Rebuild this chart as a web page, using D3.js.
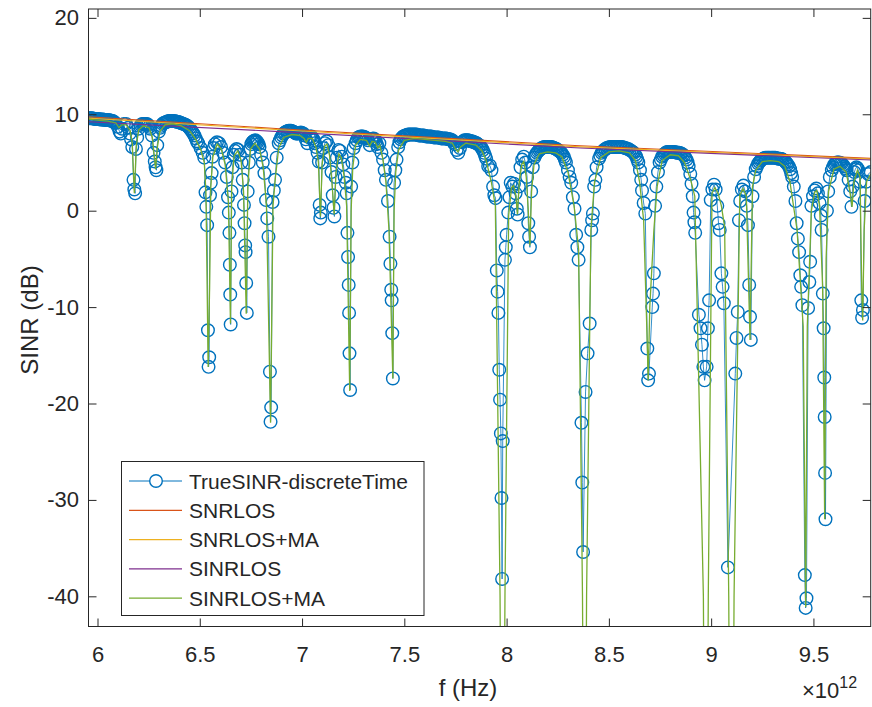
<!DOCTYPE html>
<html>
<head>
<meta charset="utf-8">
<script src="https://cdn.jsdelivr.net/npm/d3@7"></script>
<style>
  body { margin: 0; background: #fff; }
  text { font-family: "Liberation Sans", Arial, Helvetica, sans-serif; fill: #262626; }
</style>
</head>
<body>
<div id="chart"></div>
<script>
// frequency in units of 1e12 Hz, values in dB

// TrueSINR-discreteTime samples
var trueSinrA = [
  [5.955,9.6],[5.967,9.6],[5.979,9.55],[5.991,9.5],[6.003,9.5],[6.015,9.45],[6.027,9.45],[6.039,9.4],[6.051,9.4],[6.063,9.35],[6.075,9.3],[6.087,9.1],
  [6.099,8.7],[6.108,8.2],[6.114,8.0],[6.120,8.5],[6.129,9.0],
  [6.140,9.0],[6.150,8.6],[6.158,8.0],[6.164,7.4],[6.170,6.6],[6.176,3.2],[6.180,2.2],[6.184,1.8],[6.188,6.4],[6.194,7.6],[6.200,8.5],
  [6.212,8.9],[6.224,9.0],[6.236,9.0],[6.248,8.9],[6.258,8.5],
  [6.266,7.8],[6.274,6.0],[6.280,5.1],[6.284,4.5],[6.288,4.2],[6.292,6.8],[6.300,8.2],
  [6.312,8.8],[6.324,9.1],[6.336,9.2],[6.348,9.3],[6.360,9.3],[6.372,9.3],[6.384,9.25],[6.396,9.2],[6.408,9.1],[6.420,9.0],[6.432,8.9],[6.444,8.7],[6.456,8.4],[6.468,8.0],[6.480,7.5],
  [6.492,7.0],[6.504,6.5],[6.514,6.0],[6.522,5.5],[6.528,1.9],[6.532,0.4],[6.536,-1.5],[6.540,-12.4],[6.543,-16.2],[6.546,-15.2],[6.550,1.6],[6.554,2.9],[6.558,3.9],[6.562,5.6],[6.568,6.5],
  [6.574,6.9],[6.584,7.1],[6.594,7.0],[6.604,6.6],[6.614,6.0],
  [6.624,5.0],[6.632,3.5],[6.638,1.4],[6.642,-0.2],[6.645,-2.3],[6.647,-5.6],[6.649,-8.7],[6.651,-11.8],[6.655,2.0],[6.660,4.5],[6.666,5.8],
  [6.672,6.2],[6.680,6.4],[6.688,6.3],[6.696,5.8],[6.704,5.0],
  [6.710,3.2],[6.716,0.6],[6.719,-1.3],[6.722,-3.6],[6.724,-4.3],[6.727,-7.5],[6.730,-10.6],[6.734,2.0],[6.740,5.0],[6.746,6.4],
  [6.752,6.9],[6.762,7.2],[6.772,7.3],[6.782,7.1],[6.792,6.6],[6.800,5.8],
  [6.808,5.0],[6.816,3.9],[6.824,1.1],[6.830,-0.8],[6.836,-2.7],[6.843,-16.7],[6.846,-21.9],[6.849,-20.4],[6.856,0.9],[6.862,2.1],[6.868,3.2],[6.876,5.5]
];
var trueSinrB = [
  [6.886,7.0],[6.898,7.6],[6.910,8.0],[6.922,8.2],[6.934,8.3],[6.946,8.3],[6.958,8.2],[6.970,8.0],[6.982,8.0],[6.994,8.1],[7.006,8.0],[7.018,7.4],[7.026,7.0],[7.034,7.6],[7.046,7.7],[7.058,7.3],[7.068,6.6],
  [7.076,6.0],[7.082,5.1],[7.086,0.6],[7.089,-0.8],[7.092,-0.2],[7.098,5.0],[7.104,6.5],
  [7.112,7.0],[7.120,7.2],[7.128,6.8],[7.136,5.5],
  [7.144,4.0],[7.150,1.6],[7.154,0.3],[7.158,-0.6],[7.164,3.5],[7.170,5.5],
  [7.178,6.3],[7.186,6.2],[7.194,5.6],[7.202,4.8],
  [7.208,3.5],[7.214,2.9],[7.218,1.8],[7.222,-2.3],[7.225,-4.8],[7.228,-7.7],[7.230,-10.6],[7.232,-14.8],[7.235,-18.6],[7.240,2.5],[7.246,5.0],[7.252,6.5],
  [7.262,7.0],[7.274,7.6],[7.286,7.7],[7.298,7.7],[7.310,7.6],[7.322,7.3],[7.331,6.8],[7.340,7.4],[7.350,7.5],[7.360,7.2],[7.370,6.6],[7.378,7.0],[7.388,6.0],[7.396,5.3],[7.404,4.2],[7.410,3.2],
  [7.420,1.0],[7.428,-2.7],[7.432,-5.5],[7.436,-8.2],[7.438,-9.3],[7.441,-12.7],[7.444,-17.4],[7.450,2.9],[7.456,4.2],[7.462,5.3],[7.470,6.6],
  [7.482,7.4],[7.494,7.7],[7.506,7.8],[7.518,7.9],[7.530,7.9],[7.542,7.9],[7.554,7.9],[7.566,7.85],[7.578,7.8],[7.590,7.8],[7.602,7.75],[7.614,7.7],[7.626,7.7],[7.638,7.65],[7.650,7.6],[7.662,7.6],[7.674,7.55],[7.686,7.5],[7.698,7.5],[7.710,7.45],[7.722,7.4],[7.734,7.3],[7.746,6.9],[7.756,6.3],[7.764,6.0],[7.772,6.5],[7.782,7.1],[7.794,7.3],[7.806,7.3],[7.818,7.25],[7.830,7.2],[7.842,7.1],[7.854,7.0],[7.866,6.8],[7.878,6.5],[7.890,6.0],[7.900,5.4],[7.910,4.6]
];
var trueSinrC = [
  [7.918,4.7],[7.926,4.2],[7.934,2.5],[7.940,1.6],[7.946,1.3],[7.952,-6.2],[7.956,-8.4],[7.960,-10.6],[7.964,-16.5],[7.968,-19.6],[7.972,-23.1],[7.975,-29.8],[7.978,-38.2],[7.981,-23.9],[7.992,-5.1],[7.996,-3.8],[8.000,-2.5],[8.008,-0.2],[8.014,1.4],[8.020,2.9],
  [8.028,2.5],[8.036,2.8],[8.044,1.8],[8.050,0.2],[8.054,-0.4],[8.060,2.5],[8.068,4.5],[8.076,5.3],[8.084,5.6],[8.092,5.0],[8.100,3.5],[8.106,-1.3],[8.110,-2.7],[8.114,-3.8],[8.120,2.0],[8.128,4.5],
  [8.136,5.5],[8.148,6.0],[8.160,6.3],[8.172,6.5],[8.184,6.6],[8.196,6.6],[8.208,6.6],[8.220,6.6],[8.232,6.5],[8.244,6.4],[8.256,6.2],[8.268,6.0],[8.280,5.6],[8.290,5.0],[8.300,4.2],[8.308,3.5],
  [8.316,2.9],[8.324,1.4],[8.332,0.2],[8.340,-2.5],[8.346,-3.8],[8.352,-5.1],[8.366,-22.0],[8.370,-28.2],[8.374,-35.4],[8.386,-18.8],[8.396,-14.8],[8.406,-11.7],[8.414,-2.0],[8.418,-1.0],[8.422,-0.3],[8.428,2.5],[8.434,3.2],
  [8.440,4.5],[8.452,5.4],[8.464,6.0],[8.476,6.3],[8.490,6.5],[8.505,6.6],[8.520,6.6],[8.535,6.6],[8.550,6.6],[8.565,6.6],[8.580,6.5],[8.595,6.4],[8.610,6.2],[8.622,6.0],[8.634,5.6],[8.644,5.0],[8.652,4.2],[8.658,3.2],
  [8.662,2.1],[8.670,0.8],[8.678,-0.3],[8.688,-14.3],[8.692,-17.6],[8.696,-16.9],[8.712,-10.0],[8.716,-8.6],[8.720,-6.5],[8.726,0.5],[8.732,2.5],[8.740,4.0],
  [8.748,5.0],[8.760,5.6],[8.772,5.9],[8.784,6.1],[8.796,6.1],[8.808,6.1],[8.820,6.1],[8.832,6.0],[8.844,6.0],[8.856,5.9],[8.868,5.7],[8.880,5.3],[8.890,4.6],[8.898,3.8]
];
var trueSinrD = [
  [8.904,2.8],[8.910,1.5],[8.914,-0.2],[8.918,-1.2],[8.922,-2.3],[8.940,-10.8],[8.948,-12.2],[8.955,-13.9],[8.962,-16.2],[8.968,-17.6],[8.978,-16.2],[8.984,-12.2],[8.990,-9.3],[8.998,1.1],
  [9.006,2.2],[9.014,2.7],[9.022,2.2],[9.030,0.5],[9.036,-1.3],[9.042,-2.0],[9.050,-6.5],[9.056,-7.9],[9.062,-9.6],[9.082,-37.0],[9.118,-16.9],[9.124,-13.2],[9.130,-10.5],[9.136,-1.0],
  [9.142,1.0],[9.150,2.2],[9.158,2.6],[9.166,2.0],[9.174,0.5],[9.180,-1.5],[9.186,-7.7],[9.190,-11.0],[9.194,-13.4],[9.202,1.5],[9.210,3.5],
  [9.218,4.3],[9.230,4.9],[9.242,5.2],[9.254,5.4],[9.266,5.5],[9.278,5.5],[9.290,5.5],[9.302,5.5],[9.314,5.5],[9.326,5.4],[9.338,5.4],[9.350,5.3],[9.362,5.1],[9.374,4.8],[9.386,4.3],[9.396,3.5],
  [9.404,2.5],[9.412,1.0],[9.418,-1.3],[9.424,-2.9],[9.430,-4.3],[9.436,-6.7],[9.440,-7.9],[9.446,-9.8],[9.458,-37.8],[9.462,-41.2],[9.466,-40.2],[9.474,-10.1],[9.480,-7.4],[9.484,-5.3],[9.490,0.5],
  [9.498,1.5],[9.506,2.1],[9.514,2.3],[9.522,1.8],[9.530,0.8],[9.536,-0.5],[9.540,-2.0],
  [9.546,-8.6],[9.550,-12.2],[9.553,-17.3],[9.555,-21.4],[9.557,-27.2],[9.559,-32.0],[9.566,0.0],[9.572,2.0],[9.580,3.5],
  [9.590,4.2],[9.602,4.8],[9.614,5.0],[9.626,5.0],[9.638,4.9],[9.650,4.6],[9.662,4.2],[9.672,3.2],[9.680,2.0],[9.686,0.4],[9.692,2.5],[9.700,4.0],[9.710,4.5],[9.720,4.2],[9.728,3.0],
  [9.734,-9.3],[9.738,-11.1],[9.742,-10.3],[9.750,1.0],[9.758,3.0],[9.768,3.8],[9.780,4.0]
];
// extra samples lying between the ones above on the arches, where circles overlap into a band
var trueSinrArches = [
  [5.961,9.6],[5.973,9.58],[5.985,9.52],[5.997,9.5],[6.009,9.48],[6.021,9.45],[6.033,9.42],[6.045,9.4],[6.057,9.38],[6.069,9.32],[6.081,9.2],
  [6.218,9.0],[6.230,9.0],[6.242,9.0],[6.253,8.7],
  [6.306,8.6],[6.318,9.0],[6.330,9.15],[6.342,9.25],[6.354,9.3],[6.366,9.3],[6.378,9.28],[6.390,9.22],[6.402,9.15],[6.414,9.05],[6.426,8.95],[6.438,8.8],[6.450,8.55],[6.462,8.2],[6.474,7.8],[6.486,7.2],
  [6.757,7.1],[6.767,7.25],[6.777,7.2],[6.787,6.9],
  [6.892,7.3],[6.904,7.8],[6.916,8.1],[6.928,8.25],[6.940,8.3],[6.952,8.25],[6.964,8.1],[6.976,8.0],[6.988,8.05],[7.000,8.05],[7.012,7.8],[7.040,7.7],[7.052,7.5],[7.063,7.0],
  [7.268,7.3],[7.280,7.65],[7.292,7.7],[7.304,7.65],[7.316,7.5],[7.345,7.45],[7.355,7.4],[7.365,6.9],
  [7.476,7.1],[7.488,7.55],[7.500,7.75],[7.512,7.85],[7.524,7.9],[7.536,7.9],[7.548,7.9],[7.560,7.9],[7.572,7.8],[7.584,7.8],[7.596,7.8],[7.608,7.7],[7.620,7.7],[7.632,7.7],[7.644,7.6],[7.656,7.6],[7.668,7.6],[7.680,7.5],[7.692,7.5],[7.704,7.5],[7.716,7.4],[7.728,7.35],[7.740,7.1],
  [7.788,7.2],[7.800,7.3],[7.812,7.3],[7.824,7.2],[7.836,7.15],[7.848,7.05],[7.860,6.9],[7.872,6.7],[7.884,6.3],[7.895,5.7],
  [8.142,5.8],[8.154,6.15],[8.166,6.4],[8.178,6.55],[8.190,6.6],[8.202,6.6],[8.214,6.6],[8.226,6.55],[8.238,6.45],[8.250,6.3],[8.262,6.1],[8.274,5.8],[8.285,5.3],
  [8.458,5.7],[8.470,6.15],[8.483,6.4],[8.497,6.55],[8.512,6.6],[8.527,6.6],[8.542,6.6],[8.557,6.6],[8.572,6.55],[8.587,6.45],[8.602,6.3],[8.616,6.1],[8.628,5.8],[8.639,5.3],
  [8.754,5.3],[8.766,5.75],[8.778,6.0],[8.790,6.1],[8.802,6.1],[8.814,6.1],[8.826,6.05],[8.838,6.0],[8.850,5.95],[8.862,5.8],[8.874,5.5],[8.885,5.0],
  [9.224,4.6],[9.236,5.05],[9.248,5.3],[9.260,5.45],[9.272,5.5],[9.284,5.5],[9.296,5.5],[9.308,5.5],[9.320,5.45],[9.332,5.4],[9.344,5.35],[9.356,5.2],[9.368,4.95],[9.380,4.6],[9.391,3.9],
  [9.596,4.5],[9.608,4.9],[9.620,5.0],[9.632,4.95],[9.644,4.75],[9.656,4.4],[9.705,4.3],[9.715,4.4]
];

// SINRLOS+MA (green), dips that leave the axes get values below the limit
var sinrLosMa = [
  [5.955,9.5],[6.000,9.4],[6.050,9.3],[6.090,9.1],[6.105,8.6],[6.118,8.9],[6.140,8.9],[6.160,8.3],[6.170,7.0],[6.180,1.8],[6.190,6.8],[6.202,8.4],
  [6.225,8.8],[6.252,8.6],[6.268,7.6],[6.276,6.0],[6.284,4.3],[6.292,6.5],[6.305,8.2],[6.330,8.9],[6.370,9.0],[6.410,8.8],[6.450,8.3],[6.480,7.4],
  [6.505,6.3],[6.522,5.0],[6.530,2.0],[6.541,-16.2],[6.548,-8.0],[6.554,2.5],[6.564,5.6],[6.585,6.9],[6.605,6.4],[6.624,4.8],[6.640,1.0],[6.650,-11.7],
  [6.656,2.5],[6.668,5.7],[6.686,6.2],[6.702,5.2],[6.714,2.0],[6.727,-10.7],[6.735,2.5],[6.748,6.4],[6.770,7.0],[6.792,6.4],[6.810,4.5],[6.826,0.5],
  [6.846,-22.0],[6.858,0.5],[6.870,3.5],[6.886,6.5],[6.910,7.6],[6.950,7.9],[6.990,7.8],[7.010,7.5],[7.021,7.1],[7.030,7.5],[7.050,7.5],[7.068,6.6],
  [7.080,5.0],[7.090,-0.6],[7.098,4.8],[7.110,6.7],[7.122,6.9],[7.134,5.8],[7.146,3.0],[7.157,-0.4],[7.166,4.0],[7.180,5.9],[7.192,5.5],[7.206,3.5],
  [7.218,0.5],[7.233,-18.7],[7.240,0.0],[7.248,4.5],[7.262,6.8],[7.285,7.4],[7.315,7.3],[7.331,6.7],[7.342,7.2],[7.358,7.1],[7.370,6.5],[7.380,6.8],
  [7.394,5.5],[7.410,3.0],[7.425,-2.0],[7.444,-17.4],[7.450,0.0],[7.458,4.0],[7.472,6.3],[7.500,7.3],[7.550,7.5],[7.600,7.4],[7.650,7.3],[7.700,7.2],
  [7.735,7.0],[7.750,6.4],[7.762,6.1],[7.775,6.6],[7.800,7.0],[7.850,6.8],[7.880,6.2],[7.900,5.2],[7.925,3.0],[7.945,0.5],[7.968,-40],[7.972,-55],
  [7.988,-55],[7.992,-40],[8.010,-0.5],[8.024,2.4],[8.034,2.6],[8.046,1.5],[8.053,-0.4],[8.062,3.0],[8.074,4.8],[8.084,5.1],[8.096,3.5],[8.106,0.0],
  [8.114,-3.6],[8.122,2.0],[8.134,4.8],[8.160,5.9],[8.200,6.1],[8.240,6.0],[8.270,5.6],[8.300,4.0],[8.330,0.5],[8.352,-4.0],[8.371,-40],[8.375,-55],
  [8.387,-55],[8.391,-40],[8.412,-2.0],[8.430,3.0],[8.460,5.5],[8.500,6.1],[8.550,6.2],[8.600,6.0],[8.630,5.2],[8.650,3.0],[8.670,-1.0],[8.688,-14.0],
  [8.692,-17.6],[8.700,-10.0],[8.720,-2.0],[8.736,2.5],[8.760,5.2],[8.800,5.8],[8.840,5.7],[8.870,5.0],[8.900,3.2],[8.920,1.5],[8.962,-40],[8.966,-55],
  [8.982,-55],[8.986,-40],[9.004,1.8],[9.018,2.4],[9.034,1.8],[9.050,0.5],[9.066,-1.7],[9.086,-40],[9.090,-55],[9.108,-55],[9.112,-40],[9.140,1.6],
  [9.156,2.3],[9.172,1.5],[9.190,-13.4],[9.202,2.5],[9.218,4.2],[9.250,5.1],[9.290,5.2],[9.330,5.1],[9.360,4.6],[9.385,3.0],[9.420,-2.0],[9.450,-12.0],
  [9.462,-41.1],[9.470,-12.0],[9.490,0.0],[9.506,1.9],[9.516,2.1],[9.530,0.5],[9.545,-8.0],[9.555,-32.0],[9.562,-5.0],[9.574,2.0],[9.600,4.3],[9.630,4.6],
  [9.660,4.0],[9.678,2.0],[9.689,0.4],[9.698,3.0],[9.715,4.2],[9.728,3.5],[9.736,-8.0],[9.741,-11.4],[9.748,-2.0],[9.760,3.0],[9.780,3.8]
];

var snrLos   = [[5.955,9.75],[6.891,8.5],[8.334,6.76],[9.780,5.43]];
var snrLosMa = [[5.955,9.6],[6.891,8.4],[8.334,6.65],[9.780,5.35]];
var sinrLos  = [[5.955,9.23],[6.891,8.2],[8.359,6.5],[9.780,5.26]];

var xTicks = [6, 6.5, 7, 7.5, 8, 8.5, 9, 9.5];
var yTicks = [-40, -30, -20, -10, 0, 10, 20];
var legendNames = ["TrueSINR-discreteTime", "SNRLOS", "SNRLOS+MA", "SINRLOS", "SINRLOS+MA"];
var colors = ["#0072BD", "#D95319", "#EDB120", "#7E2F8E", "#77AC30"];

var trueSinr = trueSinrA.concat(trueSinrB, trueSinrC, trueSinrD, trueSinrArches)
  .sort(function(a, b) { return a[0] - b[0]; });

var width = 872, height = 707;
var plotLeft = 88.5, plotRight = 870.7, plotTop = 9, plotBottom = 626.5;

var svg = d3.select("#chart").append("svg")
  .attr("width", width)
  .attr("height", height);

var x = d3.scaleLinear().domain([5.956, 9.78]).range([plotLeft, plotRight]);
var y = d3.scaleLinear().domain([-43.13, 20.92]).range([plotBottom, plotTop]);

svg.append("rect").attr("width", width).attr("height", height).attr("fill", "#fff");

svg.append("clipPath").attr("id", "plotclip")
  .append("rect")
  .attr("x", plotLeft).attr("y", plotTop)
  .attr("width", plotRight - plotLeft).attr("height", plotBottom - plotTop);

var plot = svg.append("g").attr("clip-path", "url(#plotclip)");

var line = d3.line()
  .x(function(d) { return x(d[0]); })
  .y(function(d) { return y(d[1]); });

// true sinr: thin line plus circle markers
plot.append("path")
  .datum(trueSinr)
  .attr("d", line)
  .attr("fill", "none")
  .attr("stroke", colors[0])
  .attr("stroke-width", 0.8);

plot.append("g")
  .selectAll("circle")
  .data(trueSinr)
  .enter()
  .append("circle")
    .attr("cx", function(d) { return x(d[0]); })
    .attr("cy", function(d) { return y(d[1]); })
    .attr("r", 6.3)
    .attr("fill", "none")
    .attr("stroke", colors[0])
    .attr("stroke-width", 1.4);

var otherSeries = [snrLos, snrLosMa, sinrLos, sinrLosMa];
otherSeries.forEach(function(s, i) {
  plot.append("path")
    .datum(s)
    .attr("d", line)
    .attr("fill", "none")
    .attr("stroke", colors[i + 1])
    .attr("stroke-width", i == 3 ? 1.3 : 1.1);
});

// axes, ticks inward on all four sides
var axisColor = "#262626";
var plainNum = function(d) { return String(d); };
function styleAxis(g) {
  g.select(".domain").remove();
  g.selectAll(".tick line").attr("stroke", axisColor);
  g.selectAll(".tick text")
    .attr("fill", axisColor)
    .style("font-size", "22px")
    .style("font-family", "'Liberation Sans', Arial, sans-serif");
}

svg.append("g")
  .attr("transform", "translate(0," + plotBottom + ")")
  .call(d3.axisBottom(x).tickValues(xTicks).tickFormat(plainNum).tickSize(-8).tickPadding(20))
  .call(styleAxis);

svg.append("g")
  .attr("transform", "translate(0," + plotTop + ")")
  .call(d3.axisTop(x).tickValues(xTicks).tickFormat("").tickSize(-8))
  .call(styleAxis);

svg.append("g")
  .attr("transform", "translate(" + plotLeft + ",0)")
  .call(d3.axisLeft(y).tickValues(yTicks).tickFormat(plainNum).tickSize(-8).tickPadding(9.5))
  .call(styleAxis);

svg.append("g")
  .attr("transform", "translate(" + plotRight + ",0)")
  .call(d3.axisRight(y).tickValues(yTicks).tickFormat("").tickSize(-8))
  .call(styleAxis);

svg.append("rect")
  .attr("x", plotLeft).attr("y", plotTop)
  .attr("width", plotRight - plotLeft).attr("height", plotBottom - plotTop)
  .attr("fill", "none")
  .attr("stroke", axisColor)
  .attr("stroke-width", 1);

// axis labels
svg.append("text")
  .attr("x", 468).attr("y", 696)
  .attr("text-anchor", "middle")
  .style("font-size", "24px")
  .text("f (Hz)");

svg.append("text")
  .attr("transform", "translate(38,320) rotate(-90)")
  .attr("text-anchor", "middle")
  .style("font-size", "24px")
  .text("SINR (dB)");

var expo = svg.append("text")
  .attr("x", 802).attr("y", 698)
  .style("font-size", "22px");
expo.append("tspan").text("\u00d710");
expo.append("tspan").attr("dy", -10).style("font-size", "16px").text("12");

// legend
var lg = svg.append("g");
lg.append("rect")
  .attr("x", 121.5).attr("y", 461.5)
  .attr("width", 302.5).attr("height", 154)
  .attr("fill", "#fff")
  .attr("stroke", axisColor)
  .attr("stroke-width", 1);

legendNames.forEach(function(name, i) {
  var ly = 481 + i * 29.3;
  lg.append("line")
    .attr("x1", 129).attr("x2", 182)
    .attr("y1", ly).attr("y2", ly)
    .attr("stroke", colors[i])
    .attr("stroke-width", i == 0 ? 1 : 1.3);
  if (i == 0) {
    lg.append("circle")
      .attr("cx", 156).attr("cy", ly).attr("r", 6.3)
      .attr("fill", "#fff")
      .attr("stroke", colors[0])
      .attr("stroke-width", 1.4);
  }
  lg.append("text")
    .attr("x", 189).attr("y", ly + 7.5)
    .style("font-size", "21px")
    .text(name);
});
</script>
</body>
</html>
